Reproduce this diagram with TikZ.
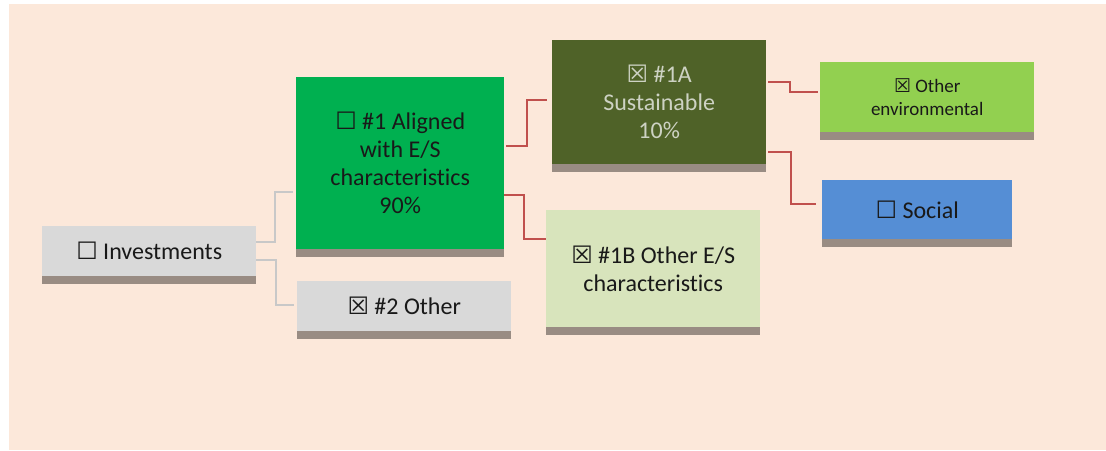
\documentclass[tikz,border=0pt]{standalone}
\usepackage{fontspec}
\setmainfont[Ligatures={NoCommon}]{Carlito}
\newfontfamily\symfont{DejaVu Sans}
\usetikzlibrary{positioning}

\definecolor{peach}{RGB}{252,232,218}
\definecolor{boxgray}{RGB}{217,217,217}
\definecolor{shadowcol}{RGB}{153,140,131}
\definecolor{alignedgreen}{RGB}{0,176,80}
\definecolor{olive}{RGB}{79,98,40}
\definecolor{palegreen}{RGB}{216,228,188}
\definecolor{envgreen}{RGB}{146,208,80}
\definecolor{socialblue}{RGB}{85,142,213}
\definecolor{linkred}{RGB}{192,80,77}
\definecolor{linkgray}{RGB}{200,200,200}
\definecolor{txt}{RGB}{25,25,25}
\definecolor{lighttxt}{RGB}{205,210,195}

\newcommand{\unchk}{{\symfont ☐}}
\newcommand{\chk}{{\symfont ☒}}

\tikzset{
  box/.style={anchor=north west, inner sep=0pt, align=center, text=txt,
    text depth=0pt, font=\fontsize{24}{28}\selectfont},
  graylink/.style={draw=linkgray, line width=2pt},
  redlink/.style={draw=linkred, line width=2pt},
}

\begin{document}
\begin{tikzpicture}[x=1pt, y=-1pt]
    % Page and background
    \useasboundingbox (0,0) rectangle (1106,450);
    \fill[peach] (9,4) rectangle (1106,449.5);

    % Boxes
    \node[box, fill=boxgray, minimum width=214pt, minimum height=50pt] (inv) at (42,226) {\unchk{} Investments};
    \node[box, fill=alignedgreen, minimum width=208pt, minimum height=172pt] (aligned) at (296,77)
        {\unchk{} \#1 Aligned\\with E/S\\characteristics\\90\%};
    \node[box, fill=boxgray, minimum width=214pt, minimum height=50pt] (other) at (297,281) {\chk{} \#2 Other};
    \node[box, fill=olive, text=lighttxt, minimum width=214pt, minimum height=124pt] (sust) at (552,40)
        {\chk{} \#1A\\Sustainable\\10\%};
    \node[box, fill=palegreen, minimum width=214pt, minimum height=117pt] (otheres) at (546,210)
        {\chk{} \#1B Other E/S\\characteristics};
    \node[box, fill=envgreen, minimum width=214pt, minimum height=70pt,
        font=\fontsize{19}{23}\selectfont] (env) at (820,62) {\chk{} Other\\environmental};
    \node[box, fill=socialblue, minimum width=190pt, minimum height=59pt] (social) at (822,180) {\unchk{} Social};

    % Shadows under boxes
    \foreach \n in {inv,aligned,other,sust,otheres,env,social}
        \fill[shadowcol] (\n.south west) rectangle ([yshift=-8pt]\n.south east);

    % Links
    \draw[graylink] ([yshift=9pt]inv.east) -- ++(19,0) |- ([xshift=-3pt,yshift=-29pt]aligned.west);
    \draw[graylink] ([yshift=-9pt]inv.east) -- ++(20,0) |- ([xshift=-3pt,yshift=1pt]other.west);
    \draw[redlink] ([xshift=2pt,yshift=17pt]aligned.east) -- ++(21,0) |- ([xshift=-5pt,yshift=2pt]sust.west);
    \draw[redlink] ([yshift=-32pt]aligned.east) -- ++(20,0) |- ([yshift=30pt]otheres.west);
    \draw[redlink] ([xshift=2pt,yshift=20pt]sust.east) -- ++(22,0) |- ([xshift=-2pt,yshift=5pt]env.west);
    \draw[redlink] ([xshift=2pt,yshift=-50pt]sust.east) -- ++(23,0) |- ([xshift=-6pt,yshift=6pt]social.west);
\end{tikzpicture}
\end{document}
